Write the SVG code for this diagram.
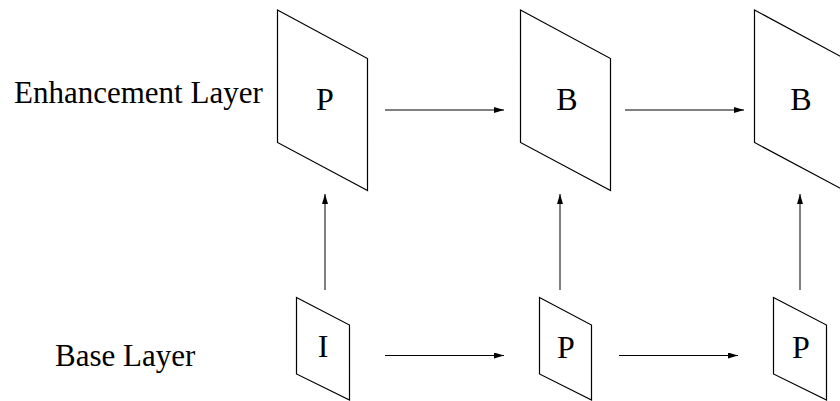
<svg xmlns="http://www.w3.org/2000/svg" width="840" height="401" viewBox="0 0 840 401">
  <style>
    .frame { fill: none; stroke: #000; stroke-width: 1.2; stroke-linejoin: miter; }
    .label { font-family: "Liberation Serif", "Times New Roman", serif; font-size: 31px; fill: #000; }
    .tag { font-family: "Liberation Serif", "Times New Roman", serif; font-size: 32px; fill: #000; text-anchor: middle; }
    .link { fill: none; stroke: #000; stroke-width: 1; }
  </style>
  <defs>
    <marker id="head" viewBox="0 0 10 6" refX="10" refY="3" markerWidth="10" markerHeight="6" markerUnits="userSpaceOnUse" orient="auto">
      <path d="M0,0 L10,3 L0,6 z" fill="#000"/>
    </marker>
  </defs>
  <rect width="840" height="401" fill="#fff"/>

  <!-- row titles -->
  <text class="label" x="14" y="103">Enhancement Layer</text>
  <text class="label" x="55" y="366">Base Layer</text>

  <!-- enhancement layer frames -->
  <g id="enh-p">
    <polygon class="frame" points="277.5,10 367.5,58.5 367.5,190.5 277.5,142.5"/>
    <text class="tag" x="325" y="110">P</text>
  </g>
  <g id="enh-b1">
    <polygon class="frame" points="520.5,10 610.5,58.5 610.5,190.5 520.5,142.5"/>
    <text class="tag" x="567" y="110">B</text>
  </g>
  <g id="enh-b2">
    <polygon class="frame" points="754.5,10 844.5,58.5 844.5,190.5 754.5,142.5"/>
    <text class="tag" x="801" y="110">B</text>
  </g>

  <!-- base layer frames -->
  <g id="base-i">
    <polygon class="frame" points="296.5,297.5 349.5,325 349.5,400 296.5,374"/>
    <text class="tag" x="323" y="357">I</text>
  </g>
  <g id="base-p1">
    <polygon class="frame" points="539.5,297.5 591.5,325 591.5,400 539.5,374"/>
    <text class="tag" x="566" y="358">P</text>
  </g>
  <g id="base-p2">
    <polygon class="frame" points="773.5,297.5 826.5,325 826.5,400 773.5,374"/>
    <text class="tag" x="801" y="358">P</text>
  </g>

  <!-- prediction arrows -->
  <g id="connectors">
    <line class="link" x1="385" y1="110" x2="504" y2="110" marker-end="url(#head)"/>
    <line class="link" x1="625" y1="110" x2="744" y2="110" marker-end="url(#head)"/>
    <line class="link" x1="385" y1="355.5" x2="504" y2="355.5" marker-end="url(#head)"/>
    <line class="link" x1="619" y1="355.5" x2="738" y2="355.5" marker-end="url(#head)"/>
    <line class="link" x1="325" y1="290" x2="325" y2="194" marker-end="url(#head)"/>
    <line class="link" x1="560" y1="290" x2="560" y2="194" marker-end="url(#head)"/>
    <line class="link" x1="800" y1="290" x2="800" y2="194" marker-end="url(#head)"/>
  </g>
</svg>
